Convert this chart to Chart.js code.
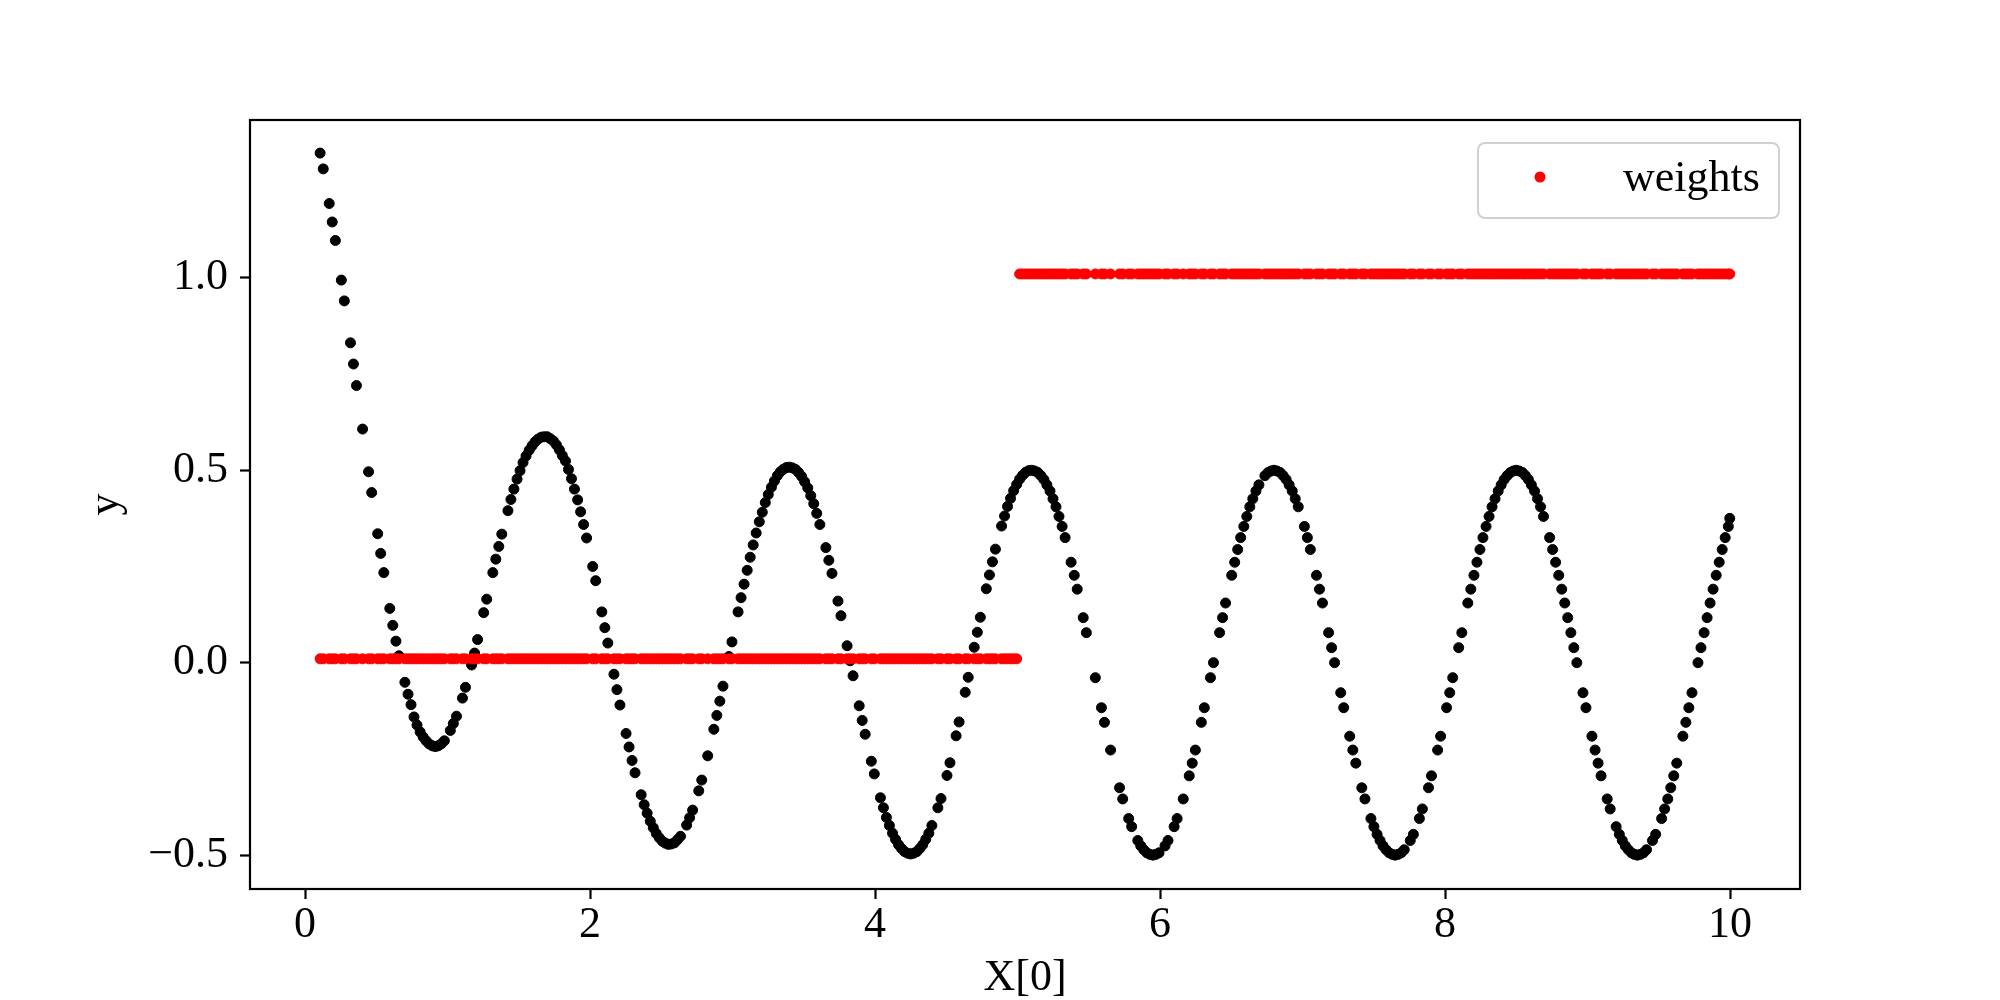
<!DOCTYPE html>
<html>
<head>
<meta charset="utf-8">
<script src="https://cdn.jsdelivr.net/npm/chart.js@4.4.1/dist/chart.umd.min.js"></script>
<style>
  html, body { margin: 0; padding: 0; background: #fff; }
  #wrap { width: 2000px; height: 1000px; }
</style>
</head>
<body>
<div id="wrap"><canvas id="chart" width="2000" height="1000"></canvas></div>
<script>
// sample positions (one line per wave)
const xValues = [
  0.106, 0.128, 0.170, 0.191, 0.213, 0.255, 0.276, 0.319, 0.340, 0.361, 0.404, 0.446, 0.468, 0.510, 0.531, 0.553, 0.595, 0.616, 0.638, 0.659, 0.701, 0.723, 0.744, 0.765, 0.786, 0.808, 0.829, 0.850, 0.871, 0.893, 0.914, 0.935, 0.956, 0.978, 1.020, 1.041, 1.063, 1.105, 1.126, 1.169, 1.190, 1.211, 1.254, 1.275, 1.318, 1.339, 1.360, 1.381, 1.424, 1.445, 1.466, 1.488, 1.509, 1.530, 1.551, 1.573, 1.594, 1.615, 1.636, 1.658, 1.679,
  1.700, 1.721, 1.743, 1.764, 1.785, 1.806, 1.828, 1.849, 1.870, 1.891, 1.913, 1.934, 1.955, 1.976, 2.019, 2.040, 2.083, 2.104, 2.125, 2.168, 2.189, 2.210, 2.253, 2.274, 2.295, 2.316, 2.359, 2.380, 2.401, 2.423, 2.444, 2.465, 2.486, 2.508, 2.529, 2.550, 2.571, 2.593, 2.614, 2.635, 2.678, 2.699, 2.720, 2.763, 2.784, 2.826, 2.869, 2.890, 2.911, 2.933, 2.975, 2.996, 3.039, 3.060, 3.081, 3.103, 3.124, 3.145, 3.166, 3.188, 3.209, 3.230, 3.251, 3.273, 3.294, 3.315, 3.336, 3.358, 3.379,
  3.400, 3.421, 3.443, 3.464, 3.485, 3.506, 3.528, 3.549, 3.570, 3.591, 3.613, 3.655, 3.676, 3.698, 3.740, 3.761, 3.804, 3.825, 3.846, 3.889, 3.910, 3.931, 3.974, 3.995, 4.038, 4.059, 4.080, 4.101, 4.123, 4.144, 4.165, 4.186, 4.208, 4.229, 4.250, 4.271, 4.293, 4.314, 4.335, 4.356, 4.378, 4.399, 4.441, 4.463, 4.505, 4.526, 4.569, 4.590, 4.633, 4.654, 4.696, 4.718, 4.739, 4.781, 4.803, 4.824, 4.845, 4.888, 4.909, 4.930, 4.951, 4.973, 4.994, 5.015, 5.036, 5.058, 5.079,
  5.100, 5.121, 5.143, 5.164, 5.185, 5.206, 5.228, 5.249, 5.270, 5.291, 5.313, 5.334, 5.376, 5.398, 5.419, 5.461, 5.483, 5.546, 5.589, 5.610, 5.653, 5.716, 5.738, 5.780, 5.801, 5.844, 5.865, 5.886, 5.908, 5.929, 5.950, 5.971, 5.993, 6.035, 6.056, 6.099, 6.120, 6.163, 6.205, 6.226, 6.248, 6.290, 6.311, 6.354, 6.375, 6.418, 6.439, 6.460, 6.503, 6.524, 6.545, 6.566, 6.588, 6.609, 6.630, 6.651, 6.673, 6.694, 6.736, 6.758, 6.779,
  6.800, 6.821, 6.843, 6.864, 6.885, 6.906, 6.928, 6.949, 6.970, 7.013, 7.034, 7.055, 7.098, 7.119, 7.140, 7.183, 7.204, 7.225, 7.268, 7.289, 7.331, 7.353, 7.374, 7.416, 7.438, 7.480, 7.501, 7.523, 7.544, 7.565, 7.586, 7.608, 7.629, 7.650, 7.671, 7.693, 7.714, 7.756, 7.778, 7.820, 7.841, 7.884, 7.905, 7.948, 7.969, 8.011, 8.033, 8.054, 8.096, 8.118, 8.160, 8.181, 8.203, 8.224, 8.245, 8.266, 8.288, 8.309, 8.330, 8.351, 8.373, 8.394, 8.415, 8.436, 8.458, 8.479,
  8.500, 8.521, 8.543, 8.564, 8.585, 8.606, 8.628, 8.649, 8.670, 8.691, 8.734, 8.755, 8.776, 8.798, 8.819, 8.840, 8.861, 8.883, 8.904, 8.925, 8.968, 8.989, 9.031, 9.053, 9.074, 9.095, 9.138, 9.159, 9.201, 9.223, 9.244, 9.265, 9.286, 9.308, 9.329, 9.350, 9.371, 9.393, 9.414, 9.456, 9.478, 9.520, 9.541, 9.563, 9.584, 9.605, 9.626, 9.669, 9.690, 9.711, 9.733, 9.775, 9.796, 9.818, 9.839, 9.860, 9.881, 9.903, 9.924, 9.945, 9.966, 9.988, 9.998
];

const yValues = [
  1.324, 1.283, 1.193, 1.145, 1.097, 0.994, 0.940, 0.831, 0.776, 0.720, 0.607, 0.496, 0.442, 0.335, 0.284, 0.234, 0.141, 0.097, 0.056, 0.018, -0.051, -0.082, -0.109, -0.141, -0.162, -0.180, -0.193, -0.203, -0.211, -0.216, -0.218, -0.216, -0.211, -0.203, -0.176, -0.158, -0.139, -0.092, -0.064, -0.006, 0.025, 0.060, 0.130, 0.165, 0.234, 0.269, 0.302, 0.334, 0.395, 0.424, 0.451, 0.477, 0.499, 0.520, 0.537, 0.552, 0.564, 0.574, 0.581, 0.586, 0.587,
  0.587, 0.582, 0.576, 0.566, 0.553, 0.538, 0.524, 0.502, 0.478, 0.451, 0.423, 0.392, 0.359, 0.324, 0.250, 0.213, 0.132, 0.091, 0.051, -0.030, -0.070, -0.110, -0.184, -0.219, -0.254, -0.286, -0.343, -0.369, -0.391, -0.412, -0.429, -0.444, -0.455, -0.464, -0.469, -0.472, -0.471, -0.468, -0.460, -0.451, -0.422, -0.403, -0.383, -0.333, -0.305, -0.242, -0.173, -0.137, -0.100, -0.061, 0.016, 0.054, 0.132, 0.169, 0.204, 0.240, 0.274, 0.306, 0.337, 0.366, 0.391, 0.416, 0.437, 0.456, 0.472, 0.486, 0.496, 0.503, 0.507,
  0.508, 0.506, 0.502, 0.494, 0.484, 0.470, 0.454, 0.434, 0.413, 0.388, 0.359, 0.299, 0.266, 0.232, 0.160, 0.122, 0.044, 0.005, -0.034, -0.112, -0.150, -0.186, -0.256, -0.289, -0.351, -0.377, -0.402, -0.423, -0.443, -0.459, -0.473, -0.483, -0.491, -0.495, -0.497, -0.495, -0.491, -0.483, -0.473, -0.459, -0.443, -0.423, -0.377, -0.353, -0.293, -0.260, -0.190, -0.154, -0.077, -0.038, 0.040, 0.079, 0.118, 0.192, 0.228, 0.262, 0.295, 0.355, 0.381, 0.406, 0.427, 0.447, 0.463, 0.477, 0.487, 0.495, 0.499,
  0.500, 0.498, 0.494, 0.486, 0.476, 0.462, 0.446, 0.426, 0.405, 0.380, 0.354, 0.325, 0.261, 0.227, 0.191, 0.117, 0.078, -0.039, -0.117, -0.155, -0.227, -0.325, -0.354, -0.405, -0.426, -0.462, -0.476, -0.486, -0.494, -0.498, -0.500, -0.498, -0.494, -0.476, -0.462, -0.426, -0.405, -0.354, -0.294, -0.261, -0.227, -0.155, -0.117, -0.039, 0.000, 0.078, 0.117, 0.155, 0.227, 0.261, 0.294, 0.325, 0.354, 0.380, 0.405, 0.426, 0.446, 0.462, 0.486, 0.494, 0.498,
  0.500, 0.498, 0.494, 0.486, 0.476, 0.462, 0.446, 0.426, 0.405, 0.354, 0.325, 0.294, 0.227, 0.191, 0.155, 0.078, 0.039, 0.000, -0.078, -0.117, -0.191, -0.227, -0.261, -0.325, -0.354, -0.405, -0.426, -0.446, -0.462, -0.476, -0.486, -0.494, -0.498, -0.500, -0.498, -0.494, -0.486, -0.462, -0.446, -0.405, -0.380, -0.325, -0.294, -0.227, -0.191, -0.117, -0.078, -0.039, 0.039, 0.078, 0.155, 0.191, 0.227, 0.261, 0.294, 0.325, 0.354, 0.380, 0.405, 0.426, 0.446, 0.462, 0.476, 0.486, 0.494, 0.498,
  0.500, 0.498, 0.494, 0.486, 0.476, 0.462, 0.446, 0.426, 0.405, 0.380, 0.325, 0.294, 0.261, 0.227, 0.191, 0.155, 0.117, 0.078, 0.039, 0.000, -0.078, -0.117, -0.191, -0.227, -0.261, -0.294, -0.354, -0.380, -0.426, -0.446, -0.462, -0.476, -0.486, -0.494, -0.498, -0.500, -0.498, -0.494, -0.486, -0.462, -0.446, -0.405, -0.380, -0.354, -0.325, -0.294, -0.261, -0.191, -0.155, -0.117, -0.078, 0.000, 0.039, 0.078, 0.117, 0.155, 0.191, 0.227, 0.261, 0.294, 0.325, 0.354, 0.375
];

// red "weights" series, same samples as above
const weights = [
  0.01, 0.01, 0.01, 0.01, 0.01, 0.01, 0.01, 0.01, 0.01, 0.01,
  0.01, 0.01, 0.01, 0.01, 0.01, 0.01, 0.01, 0.01, 0.01, 0.01,
  0.01, 0.01, 0.01, 0.01, 0.01, 0.01, 0.01, 0.01, 0.01, 0.01,
  0.01, 0.01, 0.01, 0.01, 0.01, 0.01, 0.01, 0.01, 0.01, 0.01,
  0.01, 0.01, 0.01, 0.01, 0.01, 0.01, 0.01, 0.01, 0.01, 0.01,
  0.01, 0.01, 0.01, 0.01, 0.01, 0.01, 0.01, 0.01, 0.01, 0.01,
  0.01,
  0.01, 0.01, 0.01, 0.01, 0.01, 0.01, 0.01, 0.01, 0.01, 0.01,
  0.01, 0.01, 0.01, 0.01, 0.01, 0.01, 0.01, 0.01, 0.01, 0.01,
  0.01, 0.01, 0.01, 0.01, 0.01, 0.01, 0.01, 0.01, 0.01, 0.01,
  0.01, 0.01, 0.01, 0.01, 0.01, 0.01, 0.01, 0.01, 0.01, 0.01,
  0.01, 0.01, 0.01, 0.01, 0.01, 0.01, 0.01, 0.01, 0.01, 0.01,
  0.01, 0.01, 0.01, 0.01, 0.01, 0.01, 0.01, 0.01, 0.01, 0.01,
  0.01, 0.01, 0.01, 0.01, 0.01, 0.01, 0.01, 0.01, 0.01,
  0.01, 0.01, 0.01, 0.01, 0.01, 0.01, 0.01, 0.01, 0.01, 0.01,
  0.01, 0.01, 0.01, 0.01, 0.01, 0.01, 0.01, 0.01, 0.01, 0.01,
  0.01, 0.01, 0.01, 0.01, 0.01, 0.01, 0.01, 0.01, 0.01, 0.01,
  0.01, 0.01, 0.01, 0.01, 0.01, 0.01, 0.01, 0.01, 0.01, 0.01,
  0.01, 0.01, 0.01, 0.01, 0.01, 0.01, 0.01, 0.01, 0.01, 0.01,
  0.01, 0.01, 0.01, 0.01, 0.01, 0.01, 0.01, 0.01, 0.01, 0.01,
  0.01, 0.01, 0.01, 1.01, 1.01, 1.01, 1.01,
  1.01, 1.01, 1.01, 1.01, 1.01, 1.01, 1.01, 1.01, 1.01, 1.01,
  1.01, 1.01, 1.01, 1.01, 1.01, 1.01, 1.01, 1.01, 1.01, 1.01,
  1.01, 1.01, 1.01, 1.01, 1.01, 1.01, 1.01, 1.01, 1.01, 1.01,
  1.01, 1.01, 1.01, 1.01, 1.01, 1.01, 1.01, 1.01, 1.01, 1.01,
  1.01, 1.01, 1.01, 1.01, 1.01, 1.01, 1.01, 1.01, 1.01, 1.01,
  1.01, 1.01, 1.01, 1.01, 1.01, 1.01, 1.01, 1.01, 1.01, 1.01,
  1.01,
  1.01, 1.01, 1.01, 1.01, 1.01, 1.01, 1.01, 1.01, 1.01, 1.01,
  1.01, 1.01, 1.01, 1.01, 1.01, 1.01, 1.01, 1.01, 1.01, 1.01,
  1.01, 1.01, 1.01, 1.01, 1.01, 1.01, 1.01, 1.01, 1.01, 1.01,
  1.01, 1.01, 1.01, 1.01, 1.01, 1.01, 1.01, 1.01, 1.01, 1.01,
  1.01, 1.01, 1.01, 1.01, 1.01, 1.01, 1.01, 1.01, 1.01, 1.01,
  1.01, 1.01, 1.01, 1.01, 1.01, 1.01, 1.01, 1.01, 1.01, 1.01,
  1.01, 1.01, 1.01, 1.01, 1.01, 1.01,
  1.01, 1.01, 1.01, 1.01, 1.01, 1.01, 1.01, 1.01, 1.01, 1.01,
  1.01, 1.01, 1.01, 1.01, 1.01, 1.01, 1.01, 1.01, 1.01, 1.01,
  1.01, 1.01, 1.01, 1.01, 1.01, 1.01, 1.01, 1.01, 1.01, 1.01,
  1.01, 1.01, 1.01, 1.01, 1.01, 1.01, 1.01, 1.01, 1.01, 1.01,
  1.01, 1.01, 1.01, 1.01, 1.01, 1.01, 1.01, 1.01, 1.01, 1.01,
  1.01, 1.01, 1.01, 1.01, 1.01, 1.01, 1.01, 1.01, 1.01, 1.01,
  1.01, 1.01, 1.01
];

const xTicks = [0, 2, 4, 6, 8, 10];
const xTickLabels = ["0", "2", "4", "6", "8", "10"];
const yTicks = [-0.5, 0, 0.5, 1.0];
const yTickLabels = ["\u22120.5", "0.0", "0.5", "1.0"];

const FONT = "'Liberation Serif', 'Times New Roman', serif";

// frame round the plot + the legend box
const framePlugin = {
  id: "frame",
  afterDatasetsDraw(chart) {
    const ctx = chart.ctx;
    const a = chart.chartArea;
    ctx.save();
    ctx.strokeStyle = "#000";
    ctx.lineWidth = 2.2;
    ctx.strokeRect(a.left, a.top, a.right - a.left, a.bottom - a.top);

    const bx = a.right - 322, by = a.top + 23, bw = 301, bh = 75;
    ctx.beginPath();
    ctx.roundRect(bx, by, bw, bh, 7);
    ctx.fillStyle = "rgba(255,255,255,0.8)";
    ctx.fill();
    ctx.strokeStyle = "#d0d0d0";
    ctx.lineWidth = 2;
    ctx.stroke();

    ctx.beginPath();
    ctx.arc(bx + 62, by + 34, 5.5, 0, Math.PI * 2);
    ctx.fillStyle = "#ff0000";
    ctx.fill();

    ctx.fillStyle = "#000";
    ctx.font = "44px " + FONT;
    ctx.textBaseline = "alphabetic";
    ctx.textAlign = "left";
    ctx.fillText("weights", bx + 145, by + 48);
    ctx.restore();
  }
};

const ctx = document.getElementById("chart").getContext("2d");
new Chart(ctx, {
  type: "scatter",
  data: {
    datasets: [
      {
        label: "weights",
        data: xValues.map((x, i) => ({ x: x, y: weights[i] })),
        backgroundColor: "#ff0000",
        borderColor: "#ff0000",
        borderWidth: 1,
        pointRadius: 5,
        order: 0
      },
      {
        label: "y",
        data: xValues.map((x, i) => ({ x: x, y: yValues[i] })),
        backgroundColor: "#000000",
        borderColor: "#000000",
        borderWidth: 1,
        pointRadius: 5,
        order: 1
      }
    ]
  },
  options: {
    responsive: false,
    animation: false,
    devicePixelRatio: 1,
    events: [],
    layout: { padding: { left: 0, top: 120, right: 200, bottom: 0 } },
    plugins: {
      legend: { display: false },
      tooltip: { enabled: false }
    },
    scales: {
      x: {
        type: "linear",
        position: "bottom",
        min: -0.386,
        max: 10.491,
        afterFit: (s) => { s.height = 111; },
        afterBuildTicks: (s) => { s.ticks = xTicks.map(v => ({ value: v })); },
        ticks: {
          autoSkip: false,
          maxRotation: 0,
          minRotation: 0,
          padding: 0,
          color: "#000",
          font: { family: FONT, size: 44 },
          callback: (v, i) => xTickLabels[i]
        },
        grid: { drawOnChartArea: false, drawTicks: true, tickLength: 10, tickWidth: 2.2, tickColor: "#000" },
        border: { display: false },
        title: {
          display: true,
          text: "X[0]",
          color: "#000",
          font: { family: FONT, size: 44, lineHeight: 1 },
          padding: { top: 0, bottom: 0 }
        }
      },
      y: {
        type: "linear",
        position: "left",
        min: -0.588,
        max: 1.41,
        afterFit: (s) => { s.width = 250; },
        afterBuildTicks: (s) => { s.ticks = yTicks.map(v => ({ value: v })); },
        ticks: {
          autoSkip: false,
          padding: 12,
          color: "#000",
          font: { family: FONT, size: 44 },
          callback: (v, i) => yTickLabels[i]
        },
        grid: { drawOnChartArea: false, drawTicks: true, tickLength: 10, tickWidth: 2.2, tickColor: "#000" },
        border: { display: false },
        title: {
          display: true,
          text: "y",
          color: "#000",
          font: { family: FONT, size: 44, lineHeight: 1 },
          padding: { top: 84, bottom: 0 }
        }
      }
    }
  },
  plugins: [framePlugin]
});
</script>
</body>
</html>
